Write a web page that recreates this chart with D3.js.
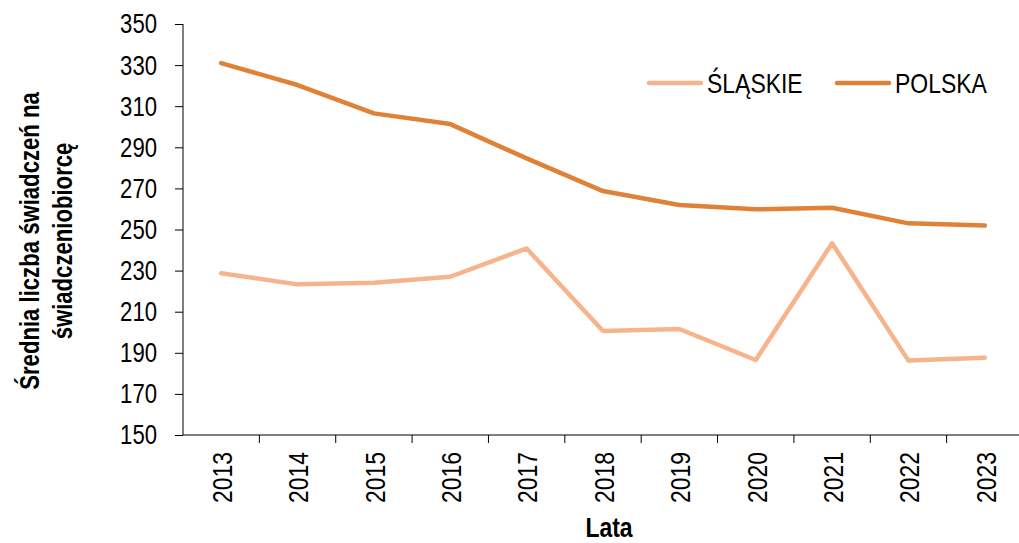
<!DOCTYPE html>
<html>
<head>
<meta charset="utf-8">
<script src="https://cdn.jsdelivr.net/npm/d3@7"></script>
<style>
  body { margin: 0; background: #fff; }
  text { font-family: "Liberation Sans", Arial, sans-serif; fill: #000; }
</style>
</head>
<body>
<svg width="1019" height="543"></svg>
<script>
// chart data
var years = ["2013", "2014", "2015", "2016", "2017", "2018", "2019", "2020", "2021", "2022", "2023"];
var slaskie = [228.7, 223.3, 224.1, 227.0, 240.8, 200.6, 201.6, 186.5, 243.3, 186.2, 187.6];
var polska = [331.0, 320.3, 306.5, 301.3, 284.6, 268.7, 261.9, 259.8, 260.6, 253.0, 251.9];
var yTicks = [150, 170, 190, 210, 230, 250, 270, 290, 310, 330, 350];
var seriesNames = ["ŚLĄSKIE", "POLSKA"];
var colors = ["#f7b38b", "#df8237"];

// the source text is a narrow sans, so squeeze it horizontally
var squeeze = " scale(0.82,1)";

var svg = d3.select("svg");

var x = d3.scaleBand().domain(years).range([183, 1023]);
var y = d3.scaleLinear().domain([150, 350]).range([435, 24]);

// y axis (ticks only, labels drawn below)
var yAxis = svg.append("g")
    .attr("transform", "translate(183,0)")
    .call(d3.axisLeft(y).tickValues(yTicks).tickSize(8).tickFormat(""));
yAxis.selectAll("line, path").attr("stroke", "#000");
yAxis.select(".domain").attr("d", "M0,24V435");

svg.selectAll(".ylab")
    .data(yTicks)
  .enter().append("text")
    .attr("class", "ylab")
    .attr("transform", function(d){ return "translate(157," + y(d) + ")" + squeeze; })
    .attr("dy", "0.35em")
    .attr("text-anchor", "end")
    .attr("font-size", "27px")
    .text(function(d){ return d; });

// x axis line + ticks at band edges
svg.append("line")
    .attr("x1", 183).attr("x2", 1019)
    .attr("y1", 435).attr("y2", 435)
    .attr("stroke", "#000");

svg.selectAll(".xtick")
    .data(years.slice(1))
  .enter().append("line")
    .attr("class", "xtick")
    .attr("x1", function(d){ return x(d); })
    .attr("x2", function(d){ return x(d); })
    .attr("y1", 435).attr("y2", 443)
    .attr("stroke", "#000");

svg.selectAll(".xlab")
    .data(years)
  .enter().append("text")
    .attr("class", "xlab")
    .attr("transform", function(d){
      return "translate(" + (x(d) + x.bandwidth() / 2 + 1) + ",452) rotate(-90)" + squeeze;
    })
    .attr("dy", "0.35em")
    .attr("text-anchor", "end")
    .attr("font-size", "28px")
    .text(function(d){ return d; });

// axis titles
svg.append("text")
    .attr("transform", "translate(609,537)" + squeeze)
    .attr("text-anchor", "middle")
    .attr("font-size", "28px")
    .attr("font-weight", "bold")
    .text("Lata");

var yTitleLines = ["Średnia liczba świadczeń na", "świadczeniobiorcę"];
var yTitleX = [38.5, 71.5];
svg.selectAll(".ytitle")
    .data(yTitleLines)
  .enter().append("text")
    .attr("class", "ytitle")
    .attr("transform", function(d, i){ return "translate(" + yTitleX[i] + ",241) rotate(-90)" + squeeze; })
    .attr("text-anchor", "middle")
    .attr("font-size", "27px")
    .attr("font-weight", "bold")
    .text(function(d){ return d; });

// lines
var line = d3.line()
    .x(function(d, i){ return x(years[i]) + x.bandwidth() / 2; })
    .y(function(d){ return y(d); });

svg.selectAll(".series")
    .data([slaskie, polska])
  .enter().append("path")
    .attr("class", "series")
    .attr("d", line)
    .attr("fill", "none")
    .attr("stroke", function(d, i){ return colors[i]; })
    .attr("stroke-width", 4.5)
    .attr("stroke-linecap", "round")
    .attr("stroke-linejoin", "round");

// legend
var legendX = [649, 837];
var legend = svg.selectAll(".legend")
    .data(seriesNames)
  .enter().append("g")
    .attr("class", "legend")
    .attr("transform", function(d, i){ return "translate(" + legendX[i] + ",83)"; });

legend.append("line")
    .attr("x1", 0).attr("x2", 52)
    .attr("stroke", function(d, i){ return colors[i]; })
    .attr("stroke-width", 4.5)
    .attr("stroke-linecap", "round");

legend.append("text")
    .attr("transform", "translate(58,0)" + squeeze)
    .attr("dy", "0.36em")
    .attr("font-size", "28px")
    .text(function(d){ return d; });
</script>
</body>
</html>
